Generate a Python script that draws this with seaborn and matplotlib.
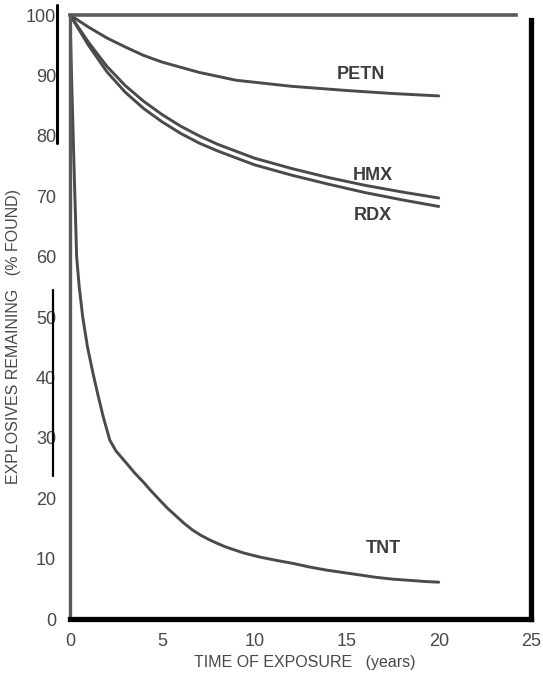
import matplotlib
matplotlib.use("Agg")
import matplotlib.pyplot as plt
import seaborn as sns
import pandas as pd
from matplotlib.lines import Line2D

# ---- data ----
petn_x = [0, 1, 2, 3, 4, 5, 7, 9, 12, 15, 17.5, 20]
petn_y = [100, 98.0, 96.2, 94.7, 93.3, 92.2, 90.5, 89.2, 88.2, 87.5, 87.0, 86.6]

hmx_x = [0, 1, 2, 3, 4, 5, 6, 7, 8, 10, 12, 14, 16, 18, 20]
hmx_y = [100, 95.5, 91.5, 88.3, 85.7, 83.5, 81.6, 80.0, 78.6, 76.3, 74.6, 73.1, 71.8, 70.7, 69.7]

rdx_x = [0, 1, 2, 3, 4, 5, 6, 7, 8, 10, 12, 14, 16, 18, 20]
rdx_y = [100, 95.0, 90.6, 87.2, 84.5, 82.3, 80.4, 78.8, 77.5, 75.2, 73.5, 72.0, 70.6, 69.4, 68.3]

tnt_x = [0, 0.05, 0.1, 0.15, 0.2, 0.27, 0.36, 0.5, 0.69, 0.95, 1.26, 1.5, 1.8, 2.16,
         2.5, 3.06, 3.5, 4.0, 4.4, 4.86, 5.3, 5.77, 6.2, 6.66, 7.1, 7.57, 8.0, 8.47,
         9.4, 10.3, 11.2, 12.1, 13.0, 13.9, 14.8, 15.7, 16.6, 17.5, 18.4, 19.3, 20.0]
tnt_y = [100, 94, 88, 82.5, 77, 69.5, 60, 55, 50, 45, 40.5, 37.3, 33.5, 29.6,
         27.8, 25.8, 24.2, 22.6, 21.2, 19.7, 18.3, 17.0, 15.8, 14.7, 13.85, 13.1, 12.5, 11.9,
         10.95, 10.25, 9.7, 9.2, 8.6, 8.1, 7.7, 7.3, 6.9, 6.6, 6.4, 6.2, 6.1]

compounds = ["PETN", "HMX", "RDX", "TNT"]
label_pos = {"PETN": (15.8, 90.1), "HMX": (16.4, 73.4), "RDX": (16.4, 66.8), "TNT": (17.0, 11.6)}

x_ticks = [0, 5, 10, 15, 20, 25]
y_ticks = [0, 10, 20, 30, 40, 50, 60, 70, 80, 90, 100]
x_label = "TIME OF EXPOSURE   (years)"
y_label = "EXPLOSIVES REMAINING   (% FOUND)"

frames = []
for name, xs, ys in [("PETN", petn_x, petn_y), ("HMX", hmx_x, hmx_y),
                     ("RDX", rdx_x, rdx_y), ("TNT", tnt_x, tnt_y)]:
    frames.append(pd.DataFrame({"t": xs, "pct": ys, "compound": name}))
df = pd.concat(frames, ignore_index=True)

# ---- style ----
sns.set_style("white")
FONT = ["Liberation Sans", "DejaVu Sans"]
plt.rcParams["font.family"] = FONT

ink = "#4a4a4a"
fig = plt.figure(figsize=(5.43, 6.85), dpi=100)
ax = fig.add_axes([70/543, 1-619/685, (531-70)/543, (619-15)/685])

sns.lineplot(data=df, x="t", y="pct", hue="compound", hue_order=compounds,
             palette={c: ink for c in compounds}, linewidth=2.1,
             legend=False, ax=ax, sort=False, estimator=None)
for ln in ax.lines:
    ln.set_solid_joinstyle("round")
    ln.set_solid_capstyle("round")

ax.set_xlim(0, 25)
ax.set_ylim(0, 100)
ax.set_xticks(x_ticks)
ax.set_yticks(y_ticks)
ax.set_xticklabels([str(v) for v in x_ticks])
ax.set_yticklabels([str(v) for v in y_ticks])
ax.tick_params(axis="y", direction="in", length=7, width=1.8, color="#555555",
               pad=10, labelsize=13, labelcolor="#484848")
ax.tick_params(axis="x", direction="in", length=6, width=1.2, color="#555555",
               pad=10, labelsize=13, labelcolor="#484848")
ax.set_xlabel("")
ax.set_ylabel("")

for side in ["left", "top", "right", "bottom"]:
    ax.spines[side].set_visible(True)
ax.spines["left"].set_color("#5a5a5a")
ax.spines["left"].set_linewidth(2.4)
ax.spines["top"].set_color("#5a5a5a")
ax.spines["top"].set_linewidth(2.6)
ax.spines["top"].set_bounds(0, 24.2)
ax.spines["bottom"].set_color("black")
ax.spines["bottom"].set_linewidth(3.8)
ax.spines["right"].set_color("black")
ax.spines["right"].set_linewidth(3.8)
ax.spines["right"].set_bounds(0, 99.2)

for name in compounds:
    x, y = label_pos[name]
    ax.text(x, y, name, fontsize=13, color="#3c3c3c", ha="center", va="center",
            fontweight="bold")

fig.text(305/543, 1-662/685, x_label, fontsize=11.5, color="#484848",
         ha="center", va="center")
fig.text(14/543, 1-336/685, y_label, fontsize=11.5, color="#484848",
         ha="center", va="center", rotation=90)

# scan artefact bars beside the y tick labels
fig.add_artist(Line2D([57/543, 57/543], [1-5/685, 1-143/685], color="black",
                      linewidth=2.2, transform=fig.transFigure))
fig.add_artist(Line2D([53/543, 53/543], [1-290/685, 1-476/685], color="black",
                      linewidth=1.6, transform=fig.transFigure))

fig.savefig("out.png", dpi=100)
